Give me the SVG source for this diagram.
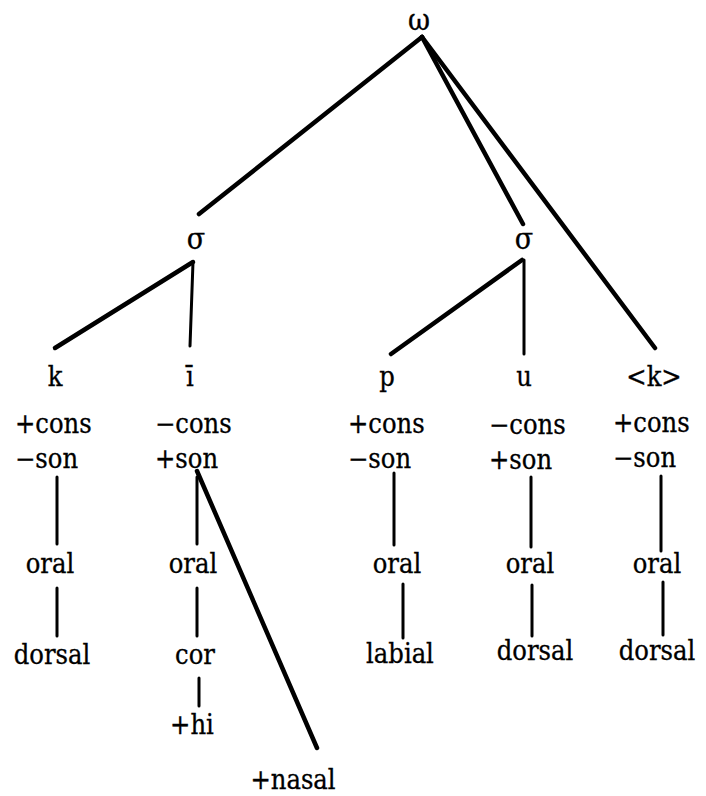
<svg xmlns="http://www.w3.org/2000/svg" width="706" height="796" viewBox="0 0 706 796">
  <style>
    text { font-family: "DejaVu Serif Condensed", "DejaVu Serif", "Liberation Serif", serif; font-stretch: condensed; font-size: 27px; fill: #000; stroke: #000; stroke-width: 0.3; }
    .mid { text-anchor: middle; }
    .greek { font-size: 30px; }
    .edge { stroke: #000; stroke-linecap: round; fill: none; }
    .thick { stroke-width: 4.5; }
    .thin { stroke-width: 3; }
  </style>
  <rect width="706" height="796" fill="#fff"/>

  <!-- association lines -->
  <g id="connectors">
    <line class="edge thick" x1="422" y1="37" x2="199" y2="214"/>
    <line class="edge thick" x1="422" y1="37" x2="523" y2="224"/>
    <line class="edge thick" x1="422" y1="37" x2="655" y2="348"/>
    <line class="edge thick" x1="193" y1="262" x2="55" y2="348"/>
    <line class="edge thin" x1="193" y1="262" x2="190" y2="346"/>
    <line class="edge thick" x1="522" y1="260" x2="391" y2="354"/>
    <line class="edge thin" x1="524" y1="260" x2="524" y2="354"/>
    <!-- k -->
    <line class="edge thin" x1="57" y1="477" x2="57" y2="544"/>
    <line class="edge thin" x1="57" y1="588" x2="57" y2="636"/>
    <!-- i -->
    <line class="edge thin" x1="197" y1="477" x2="197" y2="544"/>
    <line class="edge thin" x1="197" y1="588" x2="197" y2="636"/>
    <line class="edge thin" x1="199" y1="678" x2="199" y2="706"/>
    <line class="edge thick" x1="197" y1="471" x2="317" y2="748"/>
    <!-- p -->
    <line class="edge thin" x1="394" y1="473" x2="394" y2="545"/>
    <line class="edge thin" x1="403" y1="584" x2="403" y2="638"/>
    <!-- u -->
    <line class="edge thin" x1="531" y1="477" x2="531" y2="547"/>
    <line class="edge thin" x1="532" y1="585" x2="532" y2="636"/>
    <!-- <k> -->
    <line class="edge thin" x1="661" y1="476" x2="661" y2="551"/>
    <line class="edge thin" x1="663" y1="582" x2="663" y2="635"/>
  </g>

  <g id="word"><text class="mid greek" x="419" y="30">ω</text></g>
  <g id="syl1"><text class="mid greek" x="196" y="249">σ</text></g>
  <g id="syl2"><text class="mid greek" x="524" y="249">σ</text></g>

  <g id="seg-k">
    <text class="mid" x="55" y="386">k</text>
    <text x="15" y="433">+cons</text>
    <text x="15" y="468">−son</text>
    <text class="mid" x="50" y="573">oral</text>
    <text class="mid" x="52" y="664">dorsal</text>
  </g>
  <g id="seg-i">
    <text class="mid" x="190" y="386">ī</text>
    <text x="155" y="433">−cons</text>
    <text x="155" y="468">+son</text>
    <text class="mid" x="193" y="573">oral</text>
    <text class="mid" x="195" y="664">cor</text>
    <text class="mid" x="192" y="734">+hi</text>
    <text class="mid" x="293" y="789">+nasal</text>
  </g>
  <g id="seg-p">
    <text class="mid" x="387" y="386">p</text>
    <text x="348" y="433">+cons</text>
    <text x="348" y="468">−son</text>
    <text class="mid" x="397" y="573">oral</text>
    <text class="mid" x="400" y="663">labial</text>
  </g>
  <g id="seg-u">
    <text class="mid" x="524" y="386">u</text>
    <text x="489" y="434">−cons</text>
    <text x="489" y="469">+son</text>
    <text class="mid" x="530" y="573">oral</text>
    <text class="mid" x="535" y="660">dorsal</text>
  </g>
  <g id="seg-k2">
    <text class="mid" x="654" y="386">&lt;k&gt;</text>
    <text x="613" y="432">+cons</text>
    <text x="613" y="467">−son</text>
    <text class="mid" x="657" y="573">oral</text>
    <text class="mid" x="657" y="660">dorsal</text>
  </g>
</svg>
